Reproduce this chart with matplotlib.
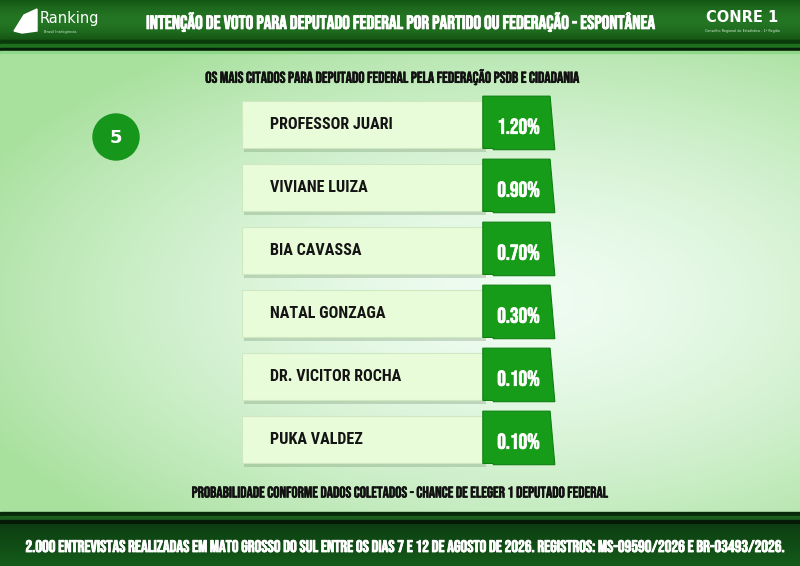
import matplotlib.pyplot as plt
import matplotlib.patheffects as pe
import numpy as np
from matplotlib.patches import Polygon, Circle

BEBAS = ["Bebas Neue", "DejaVu Sans"]
COND = ["Roboto Condensed", "DejaVu Sans"]
plt.rcParams["font.family"] = BEBAS

title = "INTENÇÃO DE VOTO PARA DEPUTADO FEDERAL POR PARTIDO OU FEDERAÇÃO - ESPONTÂNEA"
subtitle = "OS MAIS CITADOS PARA DEPUTADO FEDERAL PELA FEDERAÇÃO PSDB E CIDADANIA"
note = "PROBABILIDADE CONFORME DADOS COLETADOS - CHANCE DE ELEGER 1 DEPUTADO FEDERAL"
footer = ("2.000 ENTREVISTAS REALIZADAS EM MATO GROSSO DO SUL ENTRE OS DIAS 7 E 12 DE AGOSTO DE 2026. "
          "REGISTROS: MS-09590/2026 E BR-03493/2026.")
page_number = "5"

names = ["PROFESSOR JUARI", "VIVIANE LUIZA", "BIA CAVASSA", "NATAL GONZAGA",
         "DR. VICITOR ROCHA", "PUKA VALDEZ"]
values = [1.20, 0.90, 0.70, 0.30, 0.10, 0.10]

W, H = 800, 566
fig = plt.figure(figsize=(8, 5.66), dpi=100)


def bold(color, w=0.5):
    return [pe.withStroke(linewidth=w, foreground=color)]


# background layer in pixel coords
bg = fig.add_axes([0, 0, 1, 1])
bg.set_xlim(0, W)
bg.set_ylim(H, 0)
bg.axis("off")

yy, xx = np.mgrid[0:H, 0:W]
r = np.sqrt(((xx - 520) / 600.0) ** 2 + ((yy - 300) / 300.0) ** 2)
t = np.clip(r, 0, 1) ** 1.5
c_in = np.array([0.94, 0.99, 0.95])
c_out = np.array([0.66, 0.88, 0.62])
img = c_in[None, None, :] * (1 - t[..., None]) + c_out[None, None, :] * t[..., None]
bg.imshow(img, extent=(0, W, H, 0), aspect="auto", zorder=0)

# header band
hg = np.linspace(0, 1, 40)[:, None]
head = np.zeros((40, 2, 3))
top = np.array([0.08, 0.34, 0.08])
mid = np.array([0.14, 0.46, 0.14])
for k in range(3):
    head[:, :, k] = top[k] + (mid[k] - top[k]) * np.sin(hg * np.pi)
bg.imshow(head, extent=(0, W, 40, 0), aspect="auto", zorder=1)
bg.axhspan(40, 44, color="#0b3a0c", zorder=1)
bg.axhspan(44, 48, color="#1d6e1d", zorder=1)
bg.axhspan(48, 51, color="#061f07", zorder=1)
bg.axhspan(51, 53, color="#8fd88a", zorder=1)

# footer band
bg.axhspan(512, 516, color="#082a0a", zorder=1)
bg.axhspan(516, 520, color="#1c5e1e", zorder=1)
bg.axhspan(520, 524, color="#041a06", zorder=1)
fg = np.linspace(0, 1, 42)[:, None]
foot = np.zeros((42, 2, 3))
f_top = np.array([0.05, 0.24, 0.07])
f_bot = np.array([0.08, 0.36, 0.10])
for k in range(3):
    foot[:, :, k] = f_top[k] + (f_bot[k] - f_top[k]) * fg
bg.imshow(foot, extent=(0, W, H, 524), aspect="auto", zorder=1)

# header texts and logos
bg.text(399, 22, title, color="white", fontsize=13.8, ha="center", va="center", zorder=3,
        path_effects=bold("white", 0.6))
bg.add_patch(Polygon([[14, 31], [24, 15], [37, 9], [37, 31], [22, 33]],
                     closed=True, color="white", zorder=3))
bg.text(40, 19, "Ranking", color="white", fontsize=10.5, family="DejaVu Sans",
        ha="left", va="center", zorder=3)
bg.text(44, 32, "Brasil Inteligência", color="#cfe8cf", fontsize=2.6,
        family="DejaVu Sans", ha="left", va="center", zorder=3)
bg.text(742, 17, "CONRE 1", color="white", fontsize=10.5, fontweight="bold",
        family="DejaVu Sans", ha="center", va="center", zorder=3)
bg.text(742, 31, "Conselho Regional de Estatística - 1ª Região", color="#d8ecd8",
        fontsize=2.4, family="DejaVu Sans", ha="center", va="center", zorder=3)

bg.text(393, 77, subtitle, color="#111111", fontsize=11.3, ha="center", va="center", zorder=3,
        path_effects=bold("#111111", 0.4))
bg.text(399, 492, note, color="#111111", fontsize=11.2, ha="center", va="center", zorder=3,
        path_effects=bold("#111111", 0.4))
bg.text(402, 546, footer, color="white", fontsize=12.1, ha="center", va="center", zorder=3,
        path_effects=bold("white", 0.6))

bg.add_patch(Circle((116, 137), 23, color="#16961a", zorder=3))
bg.text(116, 138, page_number, color="white", fontsize=13, fontweight="bold",
        family="DejaVu Sans", ha="center", va="center", zorder=4)

# rows
ax = fig.add_axes([242 / W, 1 - 471 / H, 316 / W, 378 / H])
ax.set_xlim(0, 1)
ax.set_ylim(len(names) - 0.5, -0.5)
ax.axis("off")
ax.patch.set_alpha(0)

ypos = np.arange(len(names))
split = 0.765
ax.barh(ypos + 0.05, split, height=0.76, left=0.006, color="#7c9a76", alpha=0.35, zorder=1)
ax.barh(ypos, split, height=0.76, left=0, color="#e9fcd9", edgecolor="#cfe8c2",
        linewidth=0.8, zorder=2)

for i, (name, val) in enumerate(zip(names, values)):
    box = Polygon([[split - 0.003, i - 0.45], [0.975, i - 0.45], [0.99, i + 0.40],
                   [split + 0.03, i + 0.40], [split + 0.03, i + 0.38],
                   [split - 0.003, i + 0.38]],
                  closed=True, facecolor="#179c19", edgecolor="#0f7f12", linewidth=0.8,
                  zorder=3)
    ax.add_patch(box)
    ax.text(0.09, i, name, color="#141414", fontsize=11.6, fontweight="bold",
            family=COND, ha="left", va="center", zorder=4)
    ax.text(0.875, i + 0.02, f"{val:.2f}%", color="white", fontsize=15.5,
            ha="center", va="center", zorder=4, path_effects=bold("white", 0.5))

fig.savefig("out.png", dpi=100)
